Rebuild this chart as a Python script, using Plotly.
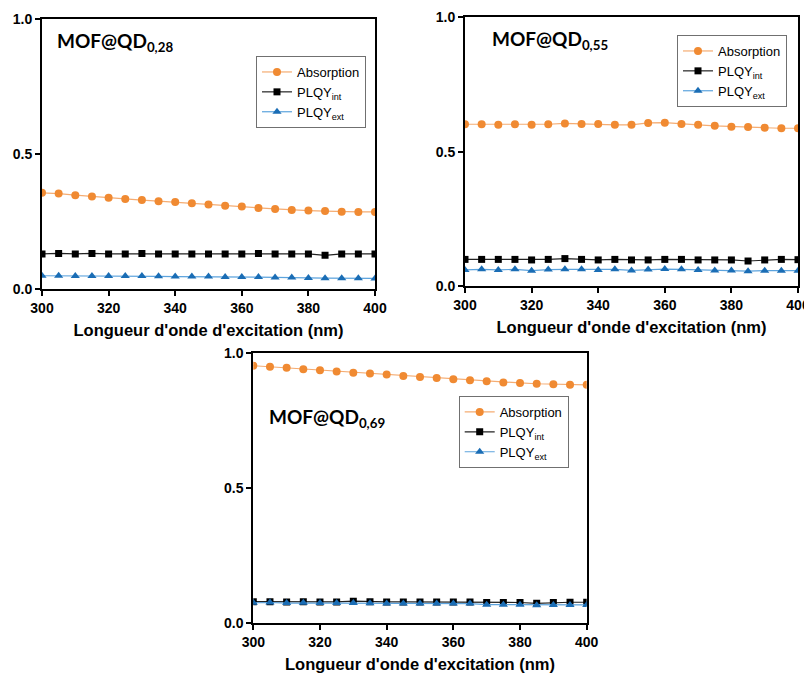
import plotly.graph_objects as go

wavelength = [300, 305, 310, 315, 320, 325, 330, 335, 340, 345, 350,
              355, 360, 365, 370, 375, 380, 385, 390, 395, 400]

abs_028 = [0.356, 0.353, 0.347, 0.342, 0.338, 0.333, 0.329, 0.325, 0.322, 0.317, 0.313,
           0.308, 0.305, 0.300, 0.296, 0.292, 0.290, 0.288, 0.286, 0.285, 0.285]
int_028 = [0.129, 0.131, 0.129, 0.131, 0.129, 0.129, 0.131, 0.129, 0.129, 0.129, 0.129,
           0.129, 0.129, 0.131, 0.129, 0.129, 0.129, 0.124, 0.129, 0.129, 0.129]
ext_028 = [0.048, 0.048, 0.047, 0.047, 0.047, 0.047, 0.047, 0.046, 0.045, 0.045, 0.045,
           0.043, 0.043, 0.043, 0.042, 0.042, 0.040, 0.039, 0.039, 0.039, 0.038]

abs_055 = [0.602, 0.602, 0.600, 0.602, 0.600, 0.602, 0.605, 0.603, 0.603, 0.600, 0.600,
           0.607, 0.608, 0.603, 0.600, 0.596, 0.593, 0.592, 0.589, 0.587, 0.587]
int_055 = [0.099, 0.099, 0.099, 0.099, 0.097, 0.099, 0.102, 0.099, 0.097, 0.099, 0.097,
           0.097, 0.099, 0.099, 0.097, 0.097, 0.097, 0.093, 0.097, 0.099, 0.098]
ext_055 = [0.060, 0.062, 0.060, 0.062, 0.057, 0.061, 0.062, 0.062, 0.060, 0.062, 0.058,
           0.061, 0.063, 0.062, 0.060, 0.058, 0.058, 0.055, 0.057, 0.057, 0.057]

abs_069 = [0.954, 0.950, 0.946, 0.941, 0.937, 0.932, 0.928, 0.925, 0.921, 0.916, 0.912,
           0.908, 0.904, 0.900, 0.896, 0.892, 0.890, 0.887, 0.885, 0.883, 0.883]
int_069 = [0.078, 0.078, 0.077, 0.078, 0.077, 0.077, 0.080, 0.078, 0.077, 0.077, 0.077,
           0.077, 0.077, 0.077, 0.075, 0.075, 0.075, 0.072, 0.075, 0.076, 0.076]
ext_069 = [0.074, 0.075, 0.073, 0.074, 0.073, 0.073, 0.073, 0.072, 0.071, 0.071, 0.071,
           0.071, 0.071, 0.071, 0.067, 0.067, 0.067, 0.065, 0.066, 0.066, 0.066]

panel_labels = ["MOF@QD<sub>0,28</sub>", "MOF@QD<sub>0,55</sub>", "MOF@QD<sub>0,69</sub>"]
series_names = ["Absorption", "PLQY<sub>int</sub>", "PLQY<sub>ext</sub>"]
x_title = "Longueur d'onde d'excitation (nm)"
y_ticks = [0.0, 0.5, 1.0]
y_ticktext = ["0.0", "0.5", "1.0"]
x_ticks = [300, 320, 340, 360, 380, 400]

panels = [
    (abs_028, int_028, ext_028),
    (abs_055, int_055, ext_055),
    (abs_069, int_069, ext_069),
]

OFF = 8  # page body margin
W, H = 812, 675
# plot-area screen pixel boxes (left, right, top, bottom)
boxes = [(42, 375, 19.3, 288.7), (465, 798, 17.3, 286), (253.3, 586.7, 353.3, 622.7)]
legend_pos = [(256, 56), (677, 35), (458.7, 396)]
label_pos = [(55, 42), (490, 40), (267, 418)]


def px_x(v):
    return (v - OFF) / W


def px_y(v):
    return (H - (v - OFF)) / H


styles = [
    dict(mcolor="#F08A32", lcolor="#F5AC72", symbol="circle", size=8),
    dict(mcolor="#000000", lcolor="#222222", symbol="square", size=7),
    dict(mcolor="#1A6DB5", lcolor="#5CA3DD", symbol="triangle-up", size=8),
]

fig = go.Figure()
legend_keys = ["legend", "legend2", "legend3"]
for i, series in enumerate(panels):
    xa = "x" if i == 0 else f"x{i+1}"
    ya = "y" if i == 0 else f"y{i+1}"
    for j, vals in enumerate(series):
        st = styles[j]
        fig.add_trace(go.Scatter(
            x=wavelength, y=vals, mode="lines+markers", name=series_names[j],
            xaxis=xa, yaxis=ya, legend=legend_keys[i],
            line=dict(color=st["lcolor"], width=1.2),
            marker=dict(color=st["mcolor"], symbol=st["symbol"], size=st["size"]),
        ))

tickfont = dict(family="Liberation Sans, Arial", size=14, color="black", weight="bold")
layout = dict(
    width=W, height=H, margin=dict(l=0, r=0, t=0, b=0, autoexpand=False),
    paper_bgcolor="white", plot_bgcolor="white", showlegend=True,
)
annotations = []
for i, (l, r, t, b) in enumerate(boxes):
    suffix = "" if i == 0 else str(i + 1)
    xd = [px_x(l), px_x(r)]
    yd = [px_y(b), px_y(t)]
    layout[f"xaxis{suffix}"] = dict(
        domain=xd, anchor=f"y{suffix}", range=[300, 400], tickvals=x_ticks,
        showline=True, mirror=True, linecolor="black", linewidth=2,
        ticks="outside", ticklen=5, tickwidth=2, tickcolor="black",
        showgrid=False, zeroline=False, tickfont=tickfont, automargin=False,
        title=dict(text=f"<b>{x_title}</b>", font=dict(family="Liberation Sans, Arial", size=16.5, color="black"), standoff=10),
    )
    layout[f"yaxis{suffix}"] = dict(
        domain=yd, anchor=f"x{suffix}", range=[0, 1], tickvals=y_ticks, ticktext=y_ticktext,
        showline=True, mirror=True, linecolor="black", linewidth=2,
        ticks="outside", ticklen=5, tickwidth=2, tickcolor="black",
        showgrid=False, zeroline=False, tickfont=tickfont, automargin=False,
    )
    lx, ly = legend_pos[i]
    layout[legend_keys[i]] = dict(
        x=px_x(lx), y=px_y(ly), xanchor="left", yanchor="top",
        xref="paper", yref="paper",
        bgcolor="white", bordercolor="#707070", borderwidth=1,
        font=dict(family="Liberation Sans, Arial", size=13, color="black"),
        tracegroupgap=0, itemwidth=30,
    )
    lpx, lpy = label_pos[i]
    annotations.append(dict(
        x=px_x(lpx), y=px_y(lpy), xref="paper", yref="paper",
        xanchor="left", yanchor="middle", showarrow=False,
        text=f"<b>{panel_labels[i]}</b>",
        font=dict(family="Lato, Open Sans", size=19, color="black"),
    ))
layout["annotations"] = annotations
fig.update_layout(**layout)
fig.write_html("out.html")
